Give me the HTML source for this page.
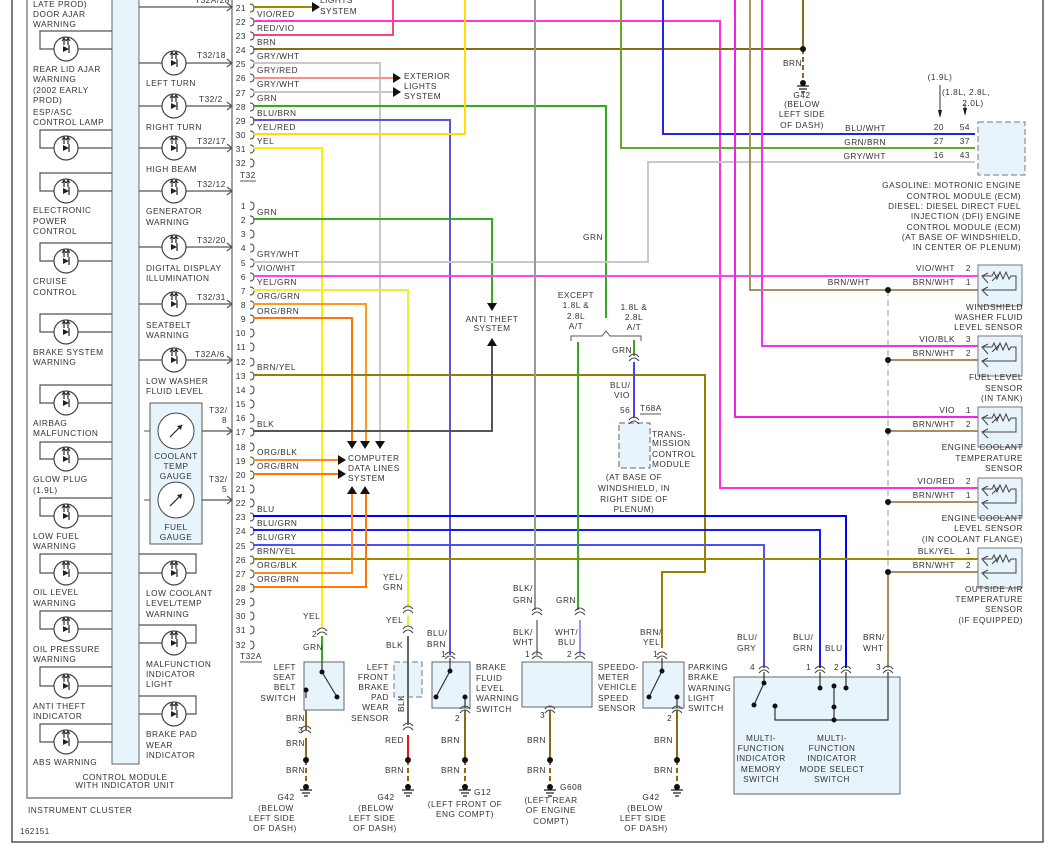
<!DOCTYPE html>
<html><head><meta charset="utf-8"><style>
html,body{margin:0;padding:0;background:#fff}
svg{display:block}
text{font-family:"Liberation Sans",sans-serif;font-size:8.3px;fill:#333;letter-spacing:0.5px}
.w{fill:none;stroke-width:2}
.k{fill:none;stroke:#555;stroke-width:1.2}
.e{text-anchor:end}.m{text-anchor:middle}
</style></head><body>
<svg width="1053" height="851" viewBox="0 0 1053 851" xmlns="http://www.w3.org/2000/svg">
<defs>
<g id="lamp"><circle r="12" fill="#fff" stroke="#444" stroke-width="1.2"/><path d="M-3 -3L3 0L-3 3Z" fill="#222"/><path d="M3 -4V4M-2 -10V-4M2 -10V-4" stroke="#222" stroke-width="1.2"/><path d="M-4 -8L-2 -11L0 -8M0 -8L2 -11L4 -8" stroke="#222" fill="none" stroke-width="1"/></g>
<g id="conn"><path d="M-5 3Q0 -3 5 3M-5 7Q0 1 5 7" fill="none" stroke="#444" stroke-width="1"/></g>
<g id="gnd"><path d="M-6 0H6M-4 3H4M-2 6H2" stroke="#222" stroke-width="1.3"/><circle cy="-3" r="3" fill="#111"/></g>
<g id="br"><path d="M0 -5Q4 -5 4 -1Q4 3 0 3" fill="none" stroke="#444" stroke-width="1"/></g>
</defs>

<!-- frame -->
<path d="M12 0V842H1043V0" fill="none" stroke="#555" stroke-width="1.5"/>
<path d="M27 0V798H232V0" fill="none" stroke="#666" stroke-width="1.2"/>
<rect x="112" y="-2" width="27" height="766" fill="#e8f4fc" stroke="#666"/>

<!-- left lamps -->
<g class="k">
<path d="M112 31H40V49H112M112 130H40V148H112M112 173H40V191H112M112 243H40V261H112M112 314H40V332H112M112 385H40V403H112M112 442H40V459H112M112 498H40V516H112M112 554H40V573H112M112 611H40V629H112M112 667H40V686H112M112 724H40V742H112"/>
</g>
<use href="#lamp" x="66" y="49"/><use href="#lamp" x="66" y="148"/><use href="#lamp" x="66" y="191"/><use href="#lamp" x="66" y="261"/><use href="#lamp" x="66" y="332"/><use href="#lamp" x="66" y="403"/><use href="#lamp" x="66" y="459"/><use href="#lamp" x="66" y="516"/><use href="#lamp" x="66" y="573"/><use href="#lamp" x="66" y="629"/><use href="#lamp" x="66" y="686"/><use href="#lamp" x="66" y="742"/>
<text x="33" y="7">LATE PROD)</text><text x="33" y="17">DOOR AJAR</text><text x="33" y="27">WARNING</text>
<text x="33" y="72">REAR LID AJAR</text><text x="33" y="82">WARNING</text><text x="33" y="93">(2002 EARLY</text><text x="33" y="103">PROD)</text><text x="33" y="115">ESP/ASC</text><text x="33" y="125">CONTROL LAMP</text>
<text x="33" y="213">ELECTRONIC</text><text x="33" y="224">POWER</text><text x="33" y="234">CONTROL</text>
<text x="33" y="284">CRUISE</text><text x="33" y="295">CONTROL</text>
<text x="33" y="355">BRAKE SYSTEM</text><text x="33" y="365">WARNING</text>
<text x="33" y="426">AIRBAG</text><text x="33" y="436">MALFUNCTION</text>
<text x="33" y="482">GLOW PLUG</text><text x="33" y="493">(1.9L)</text>
<text x="33" y="539">LOW FUEL</text><text x="33" y="549">WARNING</text>
<text x="33" y="595">OIL LEVEL</text><text x="33" y="606">WARNING</text>
<text x="33" y="652">OIL PRESSURE</text><text x="33" y="662">WARNING</text>
<text x="33" y="709">ANTI THEFT</text><text x="33" y="719">INDICATOR</text>
<text x="33" y="765">ABS WARNING</text>

<!-- right lamps -->
<g class="k">
<path d="M139 7H232M139 63H232M139 106H232M139 148H232M139 191H232M139 247H232M139 304H232M139 360H232M202 431H232M202 500H232"/>
<path d="M227 3L232 7L227 11M227 59L232 63L227 67M227 102L232 106L227 110M227 144L232 148L227 152M227 187L232 191L227 195M227 243L232 247L227 251M227 300L232 304L227 308M227 356L232 360L227 364M227 427L232 431L227 435M227 496L232 500L227 504"/>
<path d="M139 554H196V573H139M139 625H196V643H139M139 696H196V714H139"/>
</g>
<use href="#lamp" x="174" y="63"/><use href="#lamp" x="174" y="106"/><use href="#lamp" x="174" y="148"/><use href="#lamp" x="174" y="191"/><use href="#lamp" x="174" y="247"/><use href="#lamp" x="174" y="304"/><use href="#lamp" x="174" y="360"/><use href="#lamp" x="174" y="573"/><use href="#lamp" x="174" y="643"/><use href="#lamp" x="174" y="714"/>
<text x="195" y="3">T32A/28</text>
<text x="197" y="58">T32/18</text><text x="146" y="86">LEFT TURN</text>
<text x="199" y="102">T32/2</text><text x="146" y="130">RIGHT TURN</text>
<text x="197" y="144">T32/17</text><text x="146" y="172">HIGH BEAM</text>
<text x="197" y="187">T32/12</text><text x="146" y="214">GENERATOR</text><text x="146" y="225">WARNING</text>
<text x="197" y="243">T32/20</text><text x="146" y="271">DIGITAL DISPLAY</text><text x="146" y="281">ILLUMINATION</text>
<text x="197" y="300">T32/31</text><text x="146" y="328">SEATBELT</text><text x="146" y="338">WARNING</text>
<text x="195" y="357">T32A/6</text><text x="146" y="384">LOW WASHER</text><text x="146" y="394">FLUID LEVEL</text>
<rect x="150" y="403" width="52" height="141" fill="#e8f4fc" stroke="#555"/>
<circle cx="176" cy="431" r="18" fill="#fff" stroke="#444"/><path d="M170 437L182 425" stroke="#222" stroke-width="1.2"/><path d="M182 425l-5 1 4 4z" fill="#222"/>
<circle cx="176" cy="500" r="18" fill="#fff" stroke="#444"/><path d="M170 506L182 494" stroke="#222" stroke-width="1.2"/><path d="M182 494l-5 1 4 4z" fill="#222"/>
<path d="M150 431H144M202 431h6M150 500h-6M202 500h6" stroke="#555"/>
<text x="176" y="459" class="m">COOLANT</text><text x="176" y="469" class="m">TEMP</text><text x="176" y="479" class="m">GAUGE</text>
<text x="176" y="530" class="m">FUEL</text><text x="176" y="540" class="m">GAUGE</text>
<text x="209" y="413">T32/</text><text x="222" y="423">8</text><text x="209" y="482">T32/</text><text x="222" y="492">5</text>
<text x="146" y="596">LOW COOLANT</text><text x="146" y="606">LEVEL/TEMP</text><text x="146" y="617">WARNING</text>
<text x="146" y="667">MALFUNCTION</text><text x="146" y="677">INDICATOR</text><text x="146" y="687">LIGHT</text>
<text x="146" y="737">BRAKE PAD</text><text x="146" y="748">WEAR</text><text x="146" y="758">INDICATOR</text>
<text x="125" y="780" class="m">CONTROL MODULE</text><text x="125" y="788" class="m">WITH INDICATOR UNIT</text>
<text x="28" y="813">INSTRUMENT CLUSTER</text>
<text x="20" y="834" style="font-size:8px">162151</text>

<!-- pin numbers T32 -->
<g class="e">
<text x="246" y="11">21</text><text x="246" y="25">22</text><text x="246" y="39">23</text><text x="246" y="53">24</text><text x="246" y="67">25</text><text x="246" y="81">26</text><text x="246" y="96">27</text><text x="246" y="110">28</text><text x="246" y="124">29</text><text x="246" y="138">30</text><text x="246" y="152">31</text><text x="246" y="166">32</text>
<text x="246" y="209">1</text><text x="246" y="223">2</text><text x="246" y="237">3</text><text x="246" y="251">4</text><text x="246" y="266">5</text><text x="246" y="280">6</text><text x="246" y="294">7</text><text x="246" y="308">8</text><text x="246" y="322">9</text><text x="246" y="336">10</text><text x="246" y="350">11</text><text x="246" y="365">12</text><text x="246" y="379">13</text><text x="246" y="393">14</text><text x="246" y="407">15</text><text x="246" y="421">16</text><text x="246" y="435">17</text><text x="246" y="450">18</text><text x="246" y="464">19</text><text x="246" y="478">20</text><text x="246" y="492">21</text><text x="246" y="506">22</text><text x="246" y="520">23</text><text x="246" y="534">24</text><text x="246" y="549">25</text><text x="246" y="563">26</text><text x="246" y="577">27</text><text x="246" y="591">28</text><text x="246" y="605">29</text><text x="246" y="619">30</text><text x="246" y="633">31</text><text x="246" y="648">32</text>
</g>
<g>
<use href="#br" x="250" y="9"/><use href="#br" x="250" y="23"/><use href="#br" x="250" y="37"/><use href="#br" x="250" y="51"/><use href="#br" x="250" y="65"/><use href="#br" x="250" y="79"/><use href="#br" x="250" y="94"/><use href="#br" x="250" y="108"/><use href="#br" x="250" y="122"/><use href="#br" x="250" y="136"/><use href="#br" x="250" y="150"/><use href="#br" x="250" y="164"/>
<use href="#br" x="250" y="207"/><use href="#br" x="250" y="221"/><use href="#br" x="250" y="235"/><use href="#br" x="250" y="249"/><use href="#br" x="250" y="264"/><use href="#br" x="250" y="278"/><use href="#br" x="250" y="292"/><use href="#br" x="250" y="306"/><use href="#br" x="250" y="320"/><use href="#br" x="250" y="334"/><use href="#br" x="250" y="348"/><use href="#br" x="250" y="363"/><use href="#br" x="250" y="377"/><use href="#br" x="250" y="391"/><use href="#br" x="250" y="405"/><use href="#br" x="250" y="419"/><use href="#br" x="250" y="433"/><use href="#br" x="250" y="448"/><use href="#br" x="250" y="462"/><use href="#br" x="250" y="476"/><use href="#br" x="250" y="490"/><use href="#br" x="250" y="504"/><use href="#br" x="250" y="518"/><use href="#br" x="250" y="532"/><use href="#br" x="250" y="547"/><use href="#br" x="250" y="561"/><use href="#br" x="250" y="575"/><use href="#br" x="250" y="589"/><use href="#br" x="250" y="603"/><use href="#br" x="250" y="617"/><use href="#br" x="250" y="631"/><use href="#br" x="250" y="646"/>
</g>
<text x="240" y="178">T32</text><path d="M240 181H256" stroke="#555"/>
<text x="240" y="659">T32A</text><path d="M240 662H262" stroke="#555"/>

<!-- wires -->
<g class="w">
<path d="M253 7H312" stroke="#a08800"/>
<path d="M253 21H720V488H980" stroke="#ff33dd"/>
<path d="M253 35H393V0" stroke="#ff4477"/>
<path d="M253 49H803V0" stroke="#8a6a18"/>
<path d="M253 63H380V443" stroke="#c8c8c8"/>
<path d="M253 78H393" stroke="#ff8a8a"/>
<path d="M253 92H393" stroke="#c8c8c8"/>
<path d="M253 106H606V318" stroke="#33aa22"/>
<path d="M253 120H450V655" stroke="#5555dd"/>
<path d="M253 134H465V0" stroke="#ffdd00"/>
<path d="M253 148H322V628" stroke="#ffee00"/>
<path d="M253 219H492V303" stroke="#33aa22"/>
<path d="M253 262H648V162H975" stroke="#c8c8c8"/>
<path d="M253 276H980" stroke="#ff44ee"/>
<path d="M253 290H408V608" stroke="#eeee33"/>
<path d="M253 304H366V443" stroke="#ff9922"/>
<path d="M253 318H352V443" stroke="#ff7700"/>
<path d="M253 375H705V572H662V648" stroke="#9a7d00"/>
<path d="M253 431H492V346" stroke="#555"/>
<path d="M253 460H338" stroke="#ff8822"/>
<path d="M253 474H338" stroke="#ff7700"/>
<path d="M253 516H846V668" stroke="#0000ff"/>
<path d="M253 530H820V668" stroke="#1a1aee"/>
<path d="M253 545H764V668" stroke="#5050ee"/>
<path d="M253 559H980" stroke="#a08800"/>
<path d="M253 573H352V492" stroke="#ff8822"/>
<path d="M253 587H366V492" stroke="#ff7700"/>
<path d="M535 0V610" stroke="#999"/>
<path d="M621 0V148H975" stroke="#66aa22"/>
<path d="M663 0V134H975" stroke="#2222ee"/>
<path d="M735 0V417H980" stroke="#ee22ee"/>
<path d="M762 0V346H980" stroke="#ee33ee"/>
<path d="M750 0V290H980" stroke="#a89060"/>
<path d="M888 360H980M888 431H980M888 502H980M888 572H980" stroke="#a89060"/>
<path d="M888 572V668" stroke="#a89060"/>
<path d="M578 342V610" stroke="#33aa22"/>
<path d="M634 340V356" stroke="#33aa22"/>
<path d="M634 362V418" stroke="#4444ee"/>
<path d="M580 620V655" stroke="#9999ee"/>
<path d="M537 620V655" stroke="#999"/>
<path d="M322 636V662" stroke="#33aa22"/>
<path d="M408 616V626" stroke="#eeee33"/>
<path d="M408 636V725" stroke="#666"/>
<path d="M408 735V760" stroke="#ee1111"/>
<path d="M306 698V730M306 738V760" stroke="#8a6a18"/>
<path d="M465 710V760M550 710V760M677 710V760" stroke="#8a6a18"/>
</g>
<path d="M888 290V572" stroke="#999" stroke-dasharray="6 4" fill="none"/>
<path d="M803 49V80M306 760V786M408 760V786M465 760V786M550 760V786M677 760V786" stroke="#8a6a18" stroke-width="2" stroke-dasharray="5 3" fill="none"/>
<g fill="#111"><circle cx="803" cy="49" r="3"/><circle cx="888" cy="290" r="3"/><circle cx="888" cy="360" r="3"/><circle cx="888" cy="431" r="3"/><circle cx="888" cy="502" r="3"/><circle cx="888" cy="572" r="3"/><circle cx="306" cy="760" r="3"/><circle cx="408" cy="760" r="3"/><circle cx="465" cy="760" r="3"/><circle cx="550" cy="760" r="3"/><circle cx="677" cy="760" r="3"/></g>
<use href="#gnd" x="803" y="86"/><use href="#gnd" x="306" y="790"/><use href="#gnd" x="408" y="790"/><use href="#gnd" x="465" y="790"/><use href="#gnd" x="550" y="790"/><use href="#gnd" x="677" y="790"/>

<!-- arrows -->
<g fill="#111">
<path d="M312 2L320 7L312 12Z"/><path d="M393 73L401 78L393 83Z"/><path d="M393 87L401 92L393 97Z"/>
<path d="M487 303H497L492 311Z"/><path d="M487 346H497L492 338Z"/>
<path d="M347 441H357L352 449Z"/><path d="M360 441H370L365 449Z"/><path d="M375 441H385L380 449Z"/>
<path d="M338 455L346 460L338 465Z"/><path d="M338 469L346 474L338 479Z"/>
<path d="M347 494H357L352 486Z"/><path d="M360 494H370L365 486Z"/>
<path d="M938 110H942L940 118Z"/><path d="M963 108H967L965 116Z"/>
</g>
<path d="M940 85V112M965 104V110" stroke="#333"/>

<!-- wire labels -->
<text x="320" y="3">LIGHTS</text><text x="320" y="14">SYSTEM</text>
<text x="257" y="0">BRN/YEL</text>
<text x="257" y="17">VIO/RED</text><text x="257" y="31">RED/VIO</text><text x="257" y="45">BRN</text><text x="257" y="59">GRY/WHT</text><text x="257" y="73">GRY/RED</text><text x="257" y="87">GRY/WHT</text><text x="257" y="101">GRN</text><text x="257" y="116">BLU/BRN</text><text x="257" y="130">YEL/RED</text><text x="257" y="144">YEL</text>
<text x="257" y="215">GRN</text><text x="257" y="257">GRY/WHT</text><text x="257" y="271">VIO/WHT</text><text x="257" y="285">YEL/GRN</text><text x="257" y="299">ORG/GRN</text><text x="257" y="314">ORG/BRN</text><text x="257" y="370">BRN/YEL</text><text x="257" y="427">BLK</text><text x="257" y="455">ORG/BLK</text><text x="257" y="469">ORG/BRN</text><text x="257" y="512">BLU</text><text x="257" y="526">BLU/GRN</text><text x="257" y="540">BLU/GRY</text><text x="257" y="554">BRN/YEL</text><text x="257" y="568">ORG/BLK</text><text x="257" y="582">ORG/BRN</text>
<text x="404" y="79">EXTERIOR</text><text x="404" y="89">LIGHTS</text><text x="404" y="99">SYSTEM</text>
<text x="492" y="322" class="m">ANTI THEFT</text><text x="492" y="331" class="m">SYSTEM</text>
<text x="348" y="461">COMPUTER</text><text x="348" y="471">DATA LINES</text><text x="348" y="481">SYSTEM</text>
<text x="583" y="240">GRN</text>
<text x="783" y="66">BRN</text>
<text x="802" y="98" class="m">G42</text><text x="802" y="107" class="m">(BELOW</text><text x="802" y="117" class="m">LEFT SIDE</text><text x="802" y="128" class="m">OF DASH)</text>

<!-- ECM -->
<rect x="978" y="122" width="47" height="53" fill="#e8f4fc" stroke="#777" stroke-dasharray="6 3"/>
<text x="940" y="80" class="m">(1.9L)</text><text x="966" y="95" class="m">(1.8L, 2.8L,</text><text x="973" y="106" class="m">2.0L)</text>
<text x="886" y="131" class="e">BLU/WHT</text><text x="886" y="145" class="e">GRN/BRN</text><text x="886" y="159" class="e">GRY/WHT</text>
<text x="944" y="130" class="e">20</text><text x="944" y="144" class="e">27</text><text x="944" y="158" class="e">16</text>
<text x="970" y="130" class="e">54</text><text x="970" y="144" class="e">37</text><text x="970" y="158" class="e">43</text>
<g class="e"><text x="1021" y="188">GASOLINE: MOTRONIC ENGINE</text><text x="1021" y="199">CONTROL MODULE (ECM)</text><text x="1021" y="209">DIESEL: DIESEL DIRECT FUEL</text><text x="1021" y="219">INJECTION (DFI) ENGINE</text><text x="1021" y="230">CONTROL MODULE (ECM)</text><text x="1021" y="240">(AT BASE OF WINDSHIELD,</text><text x="1021" y="250">IN CENTER OF PLENUM)</text></g>

<!-- sensors -->
<g fill="#e8f4fc" stroke="#777"><rect x="978" y="265" width="44" height="41"/><rect x="978" y="336" width="44" height="40"/><rect x="978" y="407" width="44" height="40"/><rect x="978" y="478" width="44" height="40"/><rect x="978" y="548" width="44" height="40"/></g>
<g fill="none" stroke="#444" stroke-width="1">
<path d="M983 276H992l2-4 3 7 3-7 3 7 3-7 3 7 2-3h5V290H983M988 283l-6 -7 6 -3M988 296l-6-6 6-3M992 281l8-8"/>
<path d="M983 347H992l2-4 3 7 3-7 3 7 3-7 3 7 2-3h5V361H983M988 354l-6 -7 6 -3M988 367l-6-6 6-3M992 352l8-8"/>
<path d="M983 418H992l2-4 3 7 3-7 3 7 3-7 3 7 2-3h5V432H983M988 425l-6 -7 6 -3M988 438l-6-6 6-3M992 423l8-8"/>
<path d="M983 489H992l2-4 3 7 3-7 3 7 3-7 3 7 2-3h5V503H983M988 496l-6 -7 6 -3M988 509l-6-6 6-3M992 494l8-8"/>
<path d="M983 559H992l2-4 3 7 3-7 3 7 3-7 3 7 2-3h5V573H983M988 566l-6 -7 6 -3M988 579l-6-6 6-3M992 564l8-8"/>
</g>
<g class="e">
<text x="955" y="271">VIO/WHT</text><text x="971" y="271">2</text><text x="955" y="285">BRN/WHT</text><text x="971" y="285">1</text><text x="870" y="285">BRN/WHT</text>
<text x="955" y="342">VIO/BLK</text><text x="971" y="342">3</text><text x="955" y="356">BRN/WHT</text><text x="971" y="356">2</text>
<text x="955" y="413">VIO</text><text x="971" y="413">1</text><text x="955" y="427">BRN/WHT</text><text x="971" y="427">2</text>
<text x="955" y="484">VIO/RED</text><text x="971" y="484">2</text><text x="955" y="498">BRN/WHT</text><text x="971" y="498">1</text>
<text x="955" y="554">BLK/YEL</text><text x="971" y="554">1</text><text x="955" y="568">BRN/WHT</text><text x="971" y="568">2</text>
<text x="1023" y="310">WINDSHIELD</text><text x="1023" y="320">WASHER FLUID</text><text x="1023" y="330">LEVEL SENSOR</text>
<text x="1023" y="380">FUEL LEVEL</text><text x="1023" y="391">SENSOR</text><text x="1023" y="401">(IN TANK)</text>
<text x="1023" y="450">ENGINE COOLANT</text><text x="1023" y="461">TEMPERATURE</text><text x="1023" y="471">SENSOR</text>
<text x="1023" y="521">ENGINE COOLANT</text><text x="1023" y="531">LEVEL SENSOR</text><text x="1023" y="542">(IN COOLANT FLANGE)</text>
<text x="1023" y="592">OUTSIDE AIR</text><text x="1023" y="602">TEMPERATURE</text><text x="1023" y="612">SENSOR</text><text x="1023" y="623">(IF EQUIPPED)</text>
</g>

<!-- except bracket, TCM -->
<path d="M571 341V336H602L606 331L610 336H641V341" fill="none" stroke="#555"/>
<text x="576" y="298" class="m">EXCEPT</text><text x="576" y="308" class="m">1.8L &amp;</text><text x="576" y="319" class="m">2.8L</text><text x="576" y="329" class="m">A/T</text>
<text x="634" y="310" class="m">1.8L &amp;</text><text x="634" y="320" class="m">2.8L</text><text x="634" y="330" class="m">A/T</text>
<text x="612" y="353">GRN</text><use href="#conn" x="634" y="354"/>
<text x="610" y="388">BLU/</text><text x="614" y="398">VIO</text><text x="620" y="413">56</text><text x="640" y="411">T68A</text><path d="M640 414H661" stroke="#555"/>
<rect x="619" y="423" width="31" height="45" fill="#e8f4fc" stroke="#666" stroke-dasharray="6 3"/><use href="#conn" x="634" y="417"/>
<text x="652" y="437">TRANS-</text><text x="652" y="446">MISSION</text><text x="652" y="457">CONTROL</text><text x="652" y="467">MODULE</text>
<text x="634" y="480" class="m">(AT BASE OF</text><text x="634" y="491" class="m">WINDSHIELD, IN</text><text x="634" y="502" class="m">RIGHT SIDE OF</text><text x="634" y="512" class="m">PLENUM)</text>

<!-- bottom components -->
<g fill="#e8f4fc" stroke="#666">
<rect x="304" y="662" width="40" height="48"/>
<rect x="432" y="662" width="38" height="46"/>
<rect x="522" y="662" width="70" height="45"/>
<rect x="643" y="662" width="41" height="46"/>
<rect x="734" y="677" width="166" height="117"/>
</g>
<rect x="394" y="662" width="28" height="35" fill="#e8f4fc" stroke="#777" stroke-dasharray="6 3"/>
<path d="M408 660V725" stroke="#666" stroke-width="2"/>
<g stroke="#333" stroke-width="1.2" fill="none">
<path d="M322 662V672L337 697M306 698V690"/><path d="M450 658V671L436 697M465 697V708"/><path d="M662 658V671L649 697M677 697V708"/>
<path d="M764 672V683L754 705"/><path d="M820 672V688M846 672V688M888 672V720H775V706M834 684V720M777 720H888"/>
</g>
<g fill="#111"><circle cx="322" cy="672" r="2.5"/><circle cx="337" cy="697" r="2.5"/><circle cx="306" cy="690" r="2.5"/><circle cx="450" cy="671" r="2.5"/><circle cx="436" cy="697" r="2.5"/><circle cx="465" cy="697" r="2.5"/><circle cx="662" cy="671" r="2.5"/><circle cx="649" cy="697" r="2.5"/><circle cx="677" cy="697" r="2.5"/><circle cx="764" cy="683" r="2.5"/><circle cx="754" cy="705" r="2.5"/><circle cx="775" cy="706" r="2.5"/><circle cx="820" cy="688" r="2.5"/><circle cx="846" cy="688" r="2.5"/><circle cx="834" cy="686" r="2.5"/><circle cx="834" cy="707" r="2.5"/><circle cx="834" cy="720" r="2.5"/></g>
<use href="#conn" x="322" y="628"/><use href="#conn" x="408" y="606"/><use href="#conn" x="408" y="626"/><use href="#conn" x="408" y="723"/><use href="#conn" x="306" y="726"/>
<use href="#conn" x="450" y="652"/><use href="#conn" x="465" y="706"/><use href="#conn" x="537" y="608"/><use href="#conn" x="580" y="608"/><use href="#conn" x="537" y="652"/><use href="#conn" x="580" y="652"/><use href="#conn" x="550" y="706"/><use href="#conn" x="662" y="652"/><use href="#conn" x="677" y="706"/>
<use href="#conn" x="764" y="666"/><use href="#conn" x="820" y="666"/><use href="#conn" x="846" y="666"/><use href="#conn" x="888" y="666"/>

<text x="303" y="619">YEL</text><text x="312" y="637">2</text><text x="303" y="650">GRN</text>
<g class="e"><text x="296" y="670">LEFT</text><text x="296" y="680">SEAT</text><text x="296" y="690">BELT</text><text x="296" y="701">SWITCH</text></g>
<text x="286" y="721">BRN</text><text x="298" y="733">3</text><text x="286" y="746">BRN</text><text x="286" y="773">BRN</text>
<text x="286" y="800" class="m">G42</text><text x="276" y="811" class="m">(BELOW</text><text x="272" y="821" class="m">LEFT SIDE</text><text x="275" y="831" class="m">OF DASH)</text>
<text x="383" y="580">YEL/</text><text x="383" y="590">GRN</text><text x="386" y="623">YEL</text><text x="386" y="648">BLK</text>
<g class="e"><text x="389" y="670">LEFT</text><text x="389" y="680">FRONT</text><text x="389" y="690">BRAKE</text><text x="389" y="700">PAD</text><text x="389" y="710">WEAR</text><text x="389" y="721">SENSOR</text></g>
<text x="404" y="712" transform="rotate(-90 404 712)">BLK</text>
<text x="385" y="743">RED</text><text x="385" y="773">BRN</text>
<text x="386" y="800" class="m">G42</text><text x="376" y="811" class="m">(BELOW</text><text x="372" y="821" class="m">LEFT SIDE</text><text x="375" y="831" class="m">OF DASH)</text>
<text x="427" y="636">BLU/</text><text x="427" y="647">BRN</text><text x="441" y="657">1</text><text x="455" y="721">2</text>
<text x="476" y="670">BRAKE</text><text x="476" y="681">FLUID</text><text x="476" y="691">LEVEL</text><text x="476" y="701">WARNING</text><text x="476" y="712">SWITCH</text>
<text x="441" y="743">BRN</text><text x="441" y="773">BRN</text>
<text x="474" y="795">G12</text><text x="465" y="807" class="m">(LEFT FRONT OF</text><text x="465" y="817" class="m">ENG COMPT)</text>
<text x="513" y="591">BLK/</text><text x="513" y="603">GRN</text><text x="556" y="603">GRN</text>
<text x="513" y="635">BLK/</text><text x="513" y="645">WHT</text><text x="555" y="635">WHT/</text><text x="558" y="645">BLU</text>
<text x="525" y="657">1</text><text x="567" y="657">2</text><text x="540" y="718">3</text>
<text x="598" y="670">SPEEDO-</text><text x="598" y="680">METER</text><text x="598" y="690">VEHICLE</text><text x="598" y="701">SPEED</text><text x="598" y="711">SENSOR</text>
<text x="527" y="743">BRN</text><text x="527" y="773">BRN</text>
<text x="560" y="790">G608</text><text x="551" y="803" class="m">(LEFT REAR</text><text x="551" y="813" class="m">OF ENGINE</text><text x="551" y="824" class="m">COMPT)</text>
<text x="640" y="635">BRN/</text><text x="643" y="645">YEL</text><text x="653" y="657">1</text><text x="667" y="721">2</text>
<text x="688" y="670">PARKING</text><text x="688" y="680">BRAKE</text><text x="688" y="691">WARNING</text><text x="688" y="701">LIGHT</text><text x="688" y="711">SWITCH</text>
<text x="654" y="743">BRN</text><text x="654" y="773">BRN</text>
<text x="651" y="800" class="m">G42</text><text x="645" y="811" class="m">(BELOW</text><text x="643" y="821" class="m">LEFT SIDE</text><text x="646" y="831" class="m">OF DASH)</text>
<text x="737" y="640">BLU/</text><text x="737" y="651">GRY</text><text x="793" y="640">BLU/</text><text x="793" y="651">GRN</text><text x="825" y="651">BLU</text><text x="863" y="640">BRN/</text><text x="863" y="651">WHT</text>
<text x="750" y="670">4</text><text x="806" y="670">1</text><text x="834" y="670">2</text><text x="876" y="670">3</text>
<g class="m"><text x="761" y="741">MULTI-</text><text x="761" y="751">FUNCTION</text><text x="761" y="761">INDICATOR</text><text x="761" y="772">MEMORY</text><text x="761" y="782">SWITCH</text>
<text x="832" y="741">MULTI-</text><text x="832" y="751">FUNCTION</text><text x="832" y="761">INDICATOR</text><text x="832" y="772">MODE SELECT</text><text x="832" y="782">SWITCH</text></g>
</svg>
</body></html>
